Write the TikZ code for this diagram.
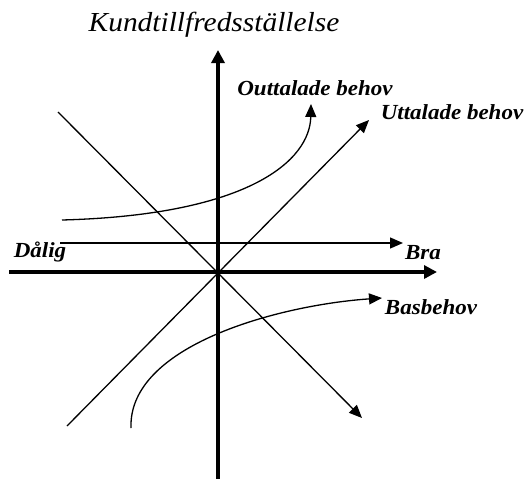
\documentclass[tikz,border=0pt]{standalone}
\usepackage{fontspec}
\setmainfont{Liberation Serif}
\usetikzlibrary{arrows.meta}
\newcommand{\wide}[1]{\scalebox{1.07}[1]{#1}}
\begin{document}
\begin{tikzpicture}[x=1pt,y=-1pt,
  axis/.style={line width=3.6pt,-{Triangle[length=13pt,width=13pt]}},
  thinarrow/.style={line width=1.3pt,-{Triangle[length=13pt,width=11pt]}},
  lbl/.style={font=\fontsize{21.5}{21.5}\selectfont\bfseries\itshape,inner sep=0pt}]
\useasboundingbox (0,0) rectangle (531,479);
% coordinates
\coordinate (O) at (218,272);
\coordinate (vb) at (218,479);
\coordinate (vt) at (218,50);
\coordinate (hl) at (9,272);
\coordinate (hr) at (437,272);
\coordinate (tl) at (60,243);
\coordinate (tr) at (403,243);
\coordinate (nw) at (58,112);
\coordinate (se) at (362,418);
\coordinate (sw) at (67,426);
\coordinate (ne) at (369,120);
\coordinate (os) at (62,220);
\coordinate (oe) at (311,104);
\coordinate (bs) at (131,428);
\coordinate (be) at (382,298);
% labels
\node[font=\fontsize{27.5}{27.5}\selectfont\itshape,inner sep=0pt] (title) at (214,25) {\wide{Kundtillfredsställelse}};
\node[lbl] (outt) at (315,88) {\wide{Outtalade behov}};
\node[lbl] (utt) at (452,112) {\wide{Uttalade behov}};
\node[lbl] (dal) at (40,252) {\wide{Dålig}};
\node[lbl] (bra) at (423,253) {\wide{Bra}};
\node[lbl] (bas) at (431,307) {\wide{Basbehov}};
% axes
\draw[axis] (vb) -- (vt);
\draw[axis] (hl) -- (hr);
% thin lines
\draw[thinarrow] (tl) -- (tr);
\draw[thinarrow] (nw) -- (se);
\draw[thinarrow] (sw) -- (ne);
\draw[thinarrow] (os) .. controls (250,215) and (310,160) .. (oe);
\draw[thinarrow] (bs) .. controls (128,345) and (280,305) .. (be);
\end{tikzpicture}
\end{document}
